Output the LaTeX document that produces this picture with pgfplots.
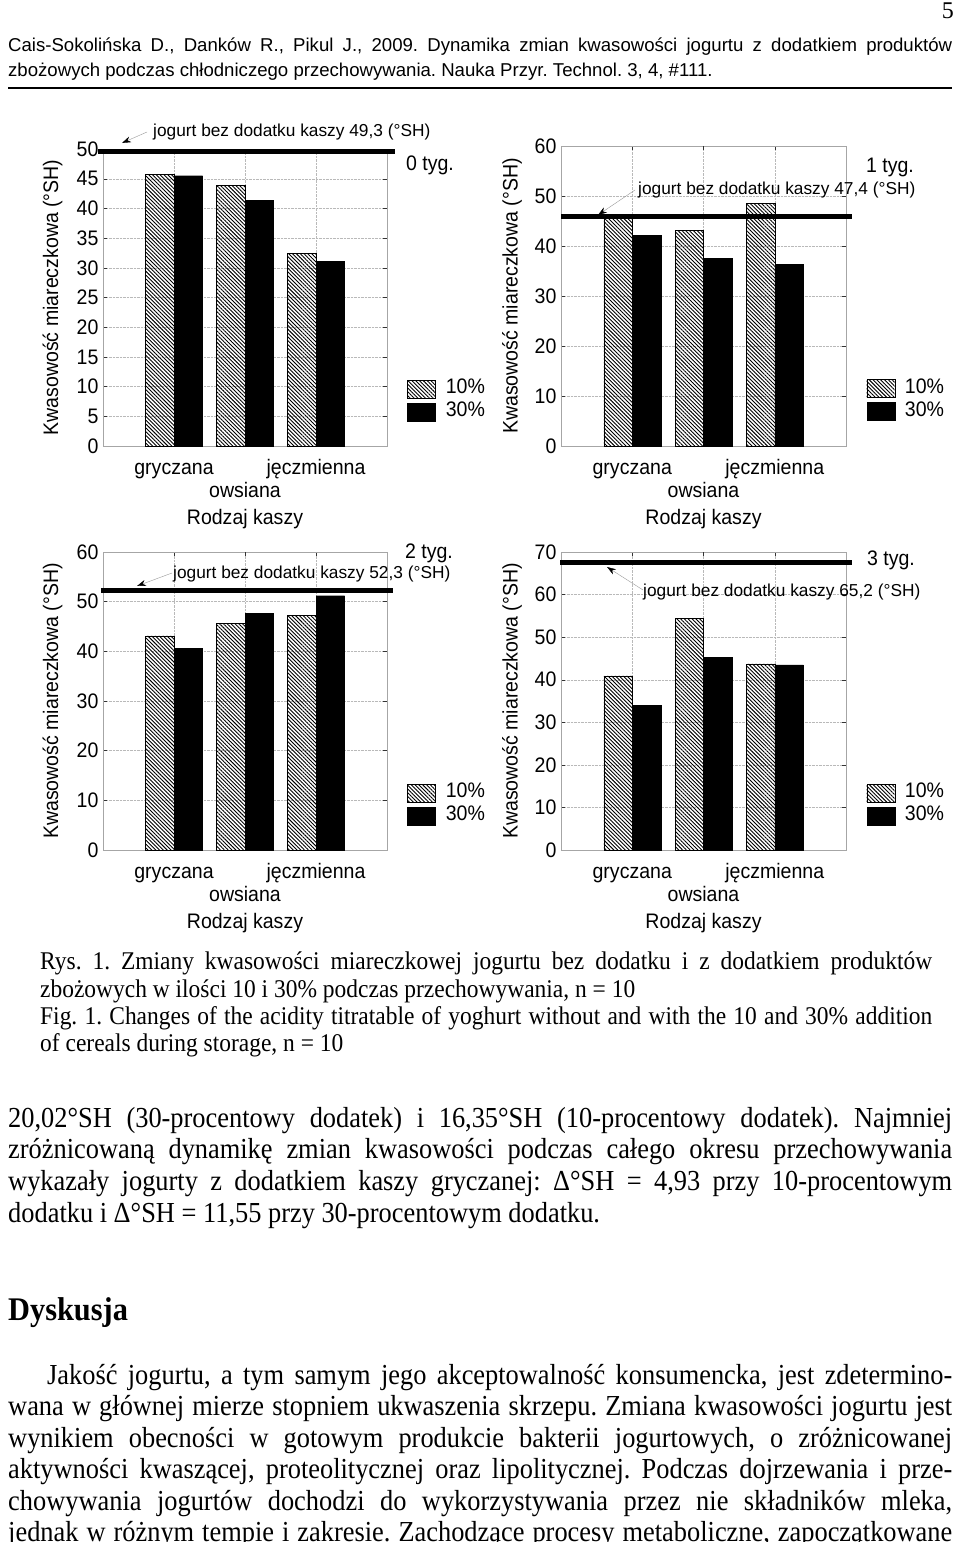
\documentclass[border=0pt]{standalone}
\usepackage{pgfplots}
\pgfplotsset{compat=1.18}
\usetikzlibrary{patterns.meta,arrows.meta}
\usepackage{fontspec}
\setmainfont{Liberation Serif}
\newfontfamily\bodyf{Liberation Serif}[FakeStretch=0.92]
\newfontfamily\textf{Liberation Serif}[FakeStretch=0.91]
\newfontfamily\arialf{Liberation Sans}
\newfontfamily\chartf{Liberation Sans}[FakeStretch=0.93]
\newcommand{\fs}[1]{\fontsize{#1}{#1}\selectfont}
\frenchspacing

\pgfplotsset{
  mylegend/.style={legend image code/.code={\draw[##1] (0pt,-9pt) rectangle (28pt,9pt);}},
  panel/.style={
    scale only axis,
    xmin=0, xmax=4, ymin=0,
    enlargelimits=false,
    xtick={1,3}, xticklabels={gryczana, jęczmienna},
    extra x ticks={2}, extra x tick labels={owsiana},
    extra x tick style={xticklabel style={yshift=-23pt}, grid=major},
    xmajorgrids, ymajorgrids,
    major grid style={densely dotted, gray!55, thin},
    axis line style={gray!70, thin},
    tick style={black!80, thin},
    major tick length=4pt,
    tick align=inside,
    xtick pos=both, ytick pos=both,
    tick label style={font=\chartf\fs{21}},
    xticklabel style={anchor=center, yshift=-23pt, text height=14pt, text depth=4pt},
    yticklabel style={xshift=-1pt},
    label style={font=\chartf\fs{21}},
    /pgf/number format/assume math mode=true,
    xlabel={Rodzaj kaszy},
    ylabel={Kwasowość miareczkowa (°SH)},
    xlabel style={at={(axis description cs:0.5,0)}, anchor=center, yshift=-73pt, text height=14pt, text depth=4pt},
    ylabel style={at={(axis description cs:-0.178,0.5)}, anchor=center},
    clip=false,
    legend style={at={(axis description cs:1.072,0.223)}, anchor=north west,
      draw=none, fill=none, inner sep=0pt, outer sep=0pt, row sep=4pt,
      font=\chartf\fs{21}, nodes={inner sep=1pt, text height=13pt, text depth=4pt},
      /tikz/column 1/.style={column sep=9pt}},
    legend cell align=left,
  },
  b10/.style={ybar, bar width=28.5pt, bar shift=-14.25pt, draw=black, thin,
    pattern={Lines[angle=-45,distance=2.7pt,line width=0.9pt]}, pattern color=black, mylegend},
  b30/.style={ybar, bar width=28.5pt, bar shift=14.25pt, draw=black, fill=black, mylegend},
  refl/.style={black, line width=5pt, forget plot, sharp plot, mark=none},
}

\begin{document}
\begin{tikzpicture}[x=1pt,y=-1pt]
\useasboundingbox (0,0) rectangle (960,1542);
\fill[white] (0,0) rectangle (960,1542);

% ---- header ----
\node[anchor=base east, inner sep=0] at (954,18) {\fs{24}5};
\node[anchor=base west, inner sep=0] at (8,51) {\makebox[944pt][s]{\arialf\fs{18.6}Cais-Sokolińska D., Danków R., Pikul J., 2009. Dynamika zmian kwasowości jogurtu z dodatkiem produktów}};
\node[anchor=base west, inner sep=0] at (8,76) {\arialf\fs{18.6}zbożowych podczas chłodniczego przechowywania. Nauka Przyr. Technol. 3, 4, \#111.};
\draw[line width=2pt] (8,88) -- (952,88);

% ---- panel 1: 0 tyg. ----
\begin{axis}[panel, at={(103pt,-446pt)}, anchor=south west, width=284pt, height=297pt,
  ymax=50, ytick={0,5,...,50}]
\addplot[refl] coordinates {(-0.07,49.6) (4.11,49.6)};
\addplot[b10] coordinates {(1,45.7) (2,43.9) (3,32.4)};
\addplot[b30] coordinates {(1,45.5) (2,41.4) (3,31.1)};
\legend{10\%,30\%}
\end{axis}

% ---- panel 2: 1 tyg. ----
\begin{axis}[panel, at={(561pt,-446pt)}, anchor=south west, width=285pt, height=300pt,
  ymax=60, ytick={0,10,...,60}, ylabel style={at={(axis description cs:-0.172,0.5)}}]
\addplot[refl] coordinates {(0,46) (4.08,46)};
\addplot[b10] coordinates {(1,45.5) (2,43.1) (3,48.5)};
\addplot[b30] coordinates {(1,42.1) (2,37.6) (3,36.3)};
\legend{10\%,30\%}
\end{axis}

% ---- panel 3: 2 tyg. ----
\begin{axis}[panel, at={(103pt,-850pt)}, anchor=south west, width=284pt, height=298pt,
  ymax=60, ytick={0,10,...,60}]
\addplot[refl] coordinates {(-0.03,52.3) (4.08,52.3)};
\addplot[b10] coordinates {(1,43.1) (2,45.7) (3,47.3)};
\addplot[b30] coordinates {(1,40.6) (2,47.7) (3,51.2)};
\legend{10\%,30\%}
\end{axis}

% ---- panel 4: 3 tyg. ----
\begin{axis}[panel, at={(561pt,-850pt)}, anchor=south west, width=285pt, height=298pt,
  ymax=70, ytick={0,10,...,70}, ylabel style={at={(axis description cs:-0.172,0.5)}}]
\addplot[refl] coordinates {(-0.01,67.6) (4.08,67.6)};
\addplot[b10] coordinates {(1,40.9) (2,54.5) (3,43.7)};
\addplot[b30] coordinates {(1,33.9) (2,45.2) (3,43.5)};
\legend{10\%,30\%}
\end{axis}

% ---- panel annotations ----
\begin{scope}[font=\chartf\fs{21}]
\node[anchor=center] at (430,165) {0 tyg.};
\node[anchor=center] at (890,167) {1 tyg.};
\node[anchor=center] at (429,553) {2 tyg.};
\node[anchor=center] at (891,560) {3 tyg.};
\end{scope}
\begin{scope}[font=\arialf\fs{17.3}]
\node[anchor=west, inner sep=0] at (153,132) {jogurt bez dodatku kaszy 49,3 (°SH)};
\node[anchor=west, inner sep=0] at (638,190) {jogurt bez dodatku kaszy 47,4 (°SH)};
\node[anchor=west, inner sep=0] at (173,574) {jogurt bez dodatku kaszy 52,3 (°SH)};
\node[anchor=west, inner sep=0] at (643,592) {jogurt bez dodatku kaszy 65,2 (°SH)};
\end{scope}
\tikzset{ann/.style={gray!80, thin, -{Stealth[length=9pt,width=6pt,black]}}}
\draw[ann] (147,132) -- (122,143);
\draw[ann] (635,190) -- (598,215);
\draw[ann] (172,573) -- (137,586);
\draw[ann] (643,590) -- (607,567);

% ---- caption ----
\begin{scope}[every node/.style={anchor=base west, inner sep=0}]
\node at (40,969) {\makebox[892pt][s]{\bodyf\fs{25.5}Rys. 1. Zmiany kwasowości miareczkowej jogurtu bez dodatku i z dodatkiem produktów}};
\node at (40,997) {\bodyf\fs{25.5}zbożowych w ilości 10 i 30\% podczas przechowywania, n = 10};
\node at (40,1024) {\makebox[892pt][s]{\bodyf\fs{25.5}Fig. 1. Changes of the acidity titratable of yoghurt without and with the 10 and 30\% addition}};
\node at (40,1051) {\bodyf\fs{25.5}of cereals during storage, n = 10};

% ---- body ----
\node at (8,1127) {\makebox[944pt][s]{\textf\fs{29}20,02°SH (30-procentowy dodatek) i 16,35°SH (10-procentowy dodatek). Najmniej}};
\node at (8,1158) {\makebox[944pt][s]{\textf\fs{29}zróżnicowaną dynamikę zmian kwasowości podczas całego okresu przechowywania}};
\node at (8,1190) {\makebox[944pt][s]{\textf\fs{29}wykazały jogurty z dodatkiem kaszy gryczanej: Δ°SH = 4,93 przy 10-procentowym}};
\node at (8,1222) {\textf\fs{29}dodatku i Δ°SH = 11,55 przy 30-procentowym dodatku.};

\node at (8,1320) {\bodyf\fs{33}\bfseries Dyskusja};

\node at (47,1384) {\makebox[905pt][s]{\textf\fs{29}Jakość jogurtu, a tym samym jego akceptowalność konsumencka, jest zdetermino-}};
\node at (8,1415) {\makebox[944pt][s]{\textf\fs{29}wana w głównej mierze stopniem ukwaszenia skrzepu. Zmiana kwasowości jogurtu jest}};
\node at (8,1447) {\makebox[944pt][s]{\textf\fs{29}wynikiem obecności w gotowym produkcie bakterii jogurtowych, o zróżnicowanej}};
\node at (8,1478) {\makebox[944pt][s]{\textf\fs{29}aktywności kwaszącej, proteolitycznej oraz lipolitycznej. Podczas dojrzewania i prze-}};
\node at (8,1510) {\makebox[944pt][s]{\textf\fs{29}chowywania jogurtów dochodzi do wykorzystywania przez nie składników mleka,}};
\node at (8,1541) {\makebox[944pt][s]{\textf\fs{29}jednak w różnym tempie i zakresie. Zachodzące procesy metaboliczne, zapoczątkowane}};
\end{scope}
\end{tikzpicture}
\end{document}
